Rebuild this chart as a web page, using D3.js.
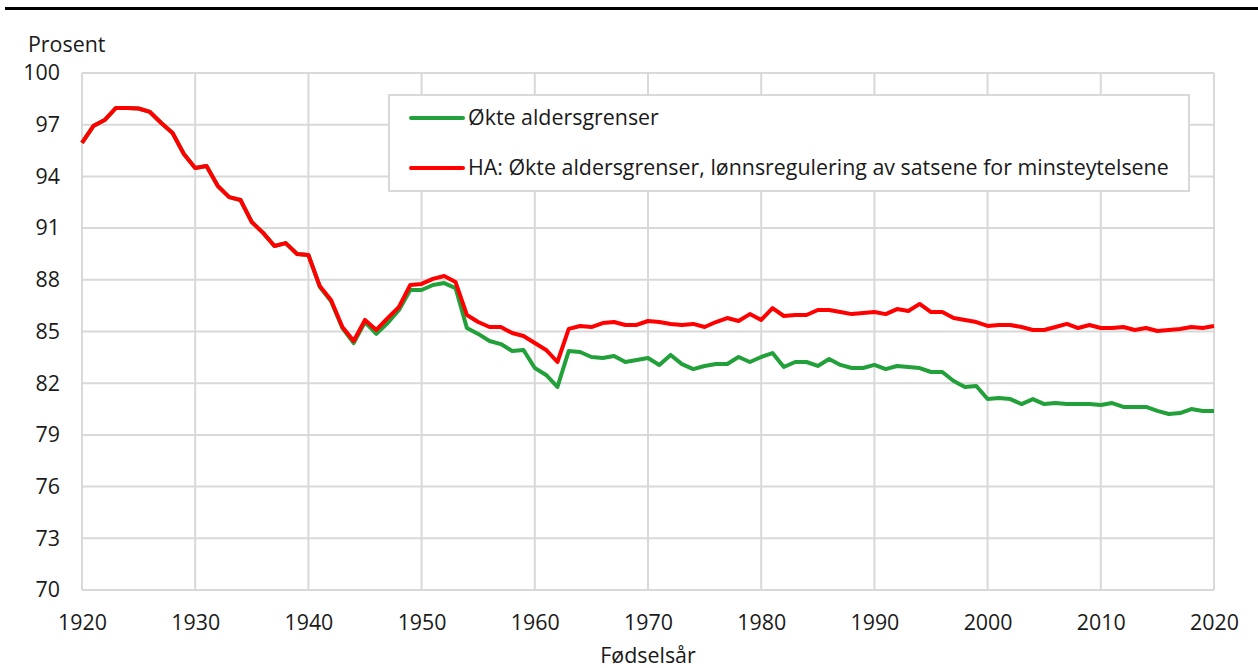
<!DOCTYPE html>
<html><head><meta charset="utf-8">
<script src="https://cdn.jsdelivr.net/npm/d3@7"></script>
<style>
html,body{margin:0;padding:0;background:#fff;}
text{font-family:"Open Sans","Noto Sans",sans-serif;fill:#1a1a1a;}
</style></head>
<body><svg id="c" width="1258" height="668"></svg>
<script>
const years = d3.range(1920, 2021);
const yTicks = [70,73,76,79,82,85,88,91,94,97,100];
const xTicks = [1920,1930,1940,1950,1960,1970,1980,1990,2000,2010,2020];
const seriesNames = ["Økte aldersgrenser","HA: Økte aldersgrenser, lønnsregulering av satsene for minsteytelsene"];
const seriesColors = ["#22a03a","#ff0000"];
const redValues = [95.94,96.92,97.27,97.97,97.97,97.94,97.74,97.1,96.52,95.3,
94.49,94.6,93.44,92.8,92.63,91.35,90.72,89.96,90.13,89.5,
89.44,87.64,86.83,85.26,84.45,85.67,85.09,85.78,86.42,87.7,
87.76,88.05,88.22,87.87,85.96,85.55,85.26,85.26,84.91,84.74,
84.33,83.93,83.23,85.15,85.32,85.26,85.49,85.55,85.38,85.38,
85.61,85.55,85.44,85.38,85.44,85.26,85.55,85.78,85.61,86.01,
85.67,86.36,85.9,85.96,85.96,86.25,86.25,86.13,86.01,86.07,
86.13,86.01,86.3,86.19,86.6,86.13,86.13,85.78,85.67,85.55,
85.32,85.38,85.38,85.26,85.09,85.09,85.26,85.44,85.2,85.38,
85.2,85.2,85.26,85.09,85.2,85.03,85.09,85.15,85.26,85.2,85.32];
const greenValues = [95.94,96.92,97.27,97.97,97.97,97.94,97.74,97.1,96.52,95.3,
94.49,94.6,93.44,92.8,92.63,91.35,90.72,89.96,90.13,89.5,
89.44,87.6,86.75,85.2,84.33,85.55,84.86,85.49,86.25,87.41,
87.41,87.7,87.81,87.52,85.2,84.86,84.45,84.27,83.87,83.93,
82.88,82.48,81.78,83.87,83.81,83.52,83.46,83.58,83.23,83.35,
83.46,83.06,83.64,83.11,82.82,83.0,83.11,83.11,83.52,83.23,
83.52,83.75,82.94,83.23,83.23,83.0,83.4,83.06,82.88,82.88,
83.06,82.82,83.0,82.94,82.88,82.65,82.65,82.13,81.78,81.84,
81.08,81.14,81.08,80.79,81.08,80.79,80.85,80.79,80.79,80.79,
80.73,80.85,80.62,80.62,80.62,80.39,80.21,80.27,80.5,80.39,80.39];

const svg = d3.select("#c");
const x = d3.scaleLinear().domain([1920,2020]).range([82,1214]);
const y = d3.scaleLinear().domain([70,100]).range([590,73]);
const grid = "#d9d9d9";
const fs = "21.4px";

// top rule
svg.append("line").attr("x1",5).attr("x2",1258).attr("y1",8.5).attr("y2",8.5)
  .attr("stroke","#000").attr("stroke-width",3);

// gridlines
svg.append("g").selectAll("line").data(yTicks).join("line")
  .attr("x1",x(1920)).attr("x2",x(2020)).attr("y1",d=>y(d)).attr("y2",d=>y(d))
  .attr("stroke",grid).attr("stroke-width",2);
svg.append("g").selectAll("line").data(xTicks).join("line")
  .attr("x1",d=>x(d)).attr("x2",d=>x(d)).attr("y1",y(70)).attr("y2",y(100))
  .attr("stroke",grid).attr("stroke-width",2);

// axes (labels only)
const yAxis = svg.append("g").attr("transform",`translate(${x(1920)},0)`)
  .call(d3.axisLeft(y).tickValues(yTicks).tickSize(0).tickPadding(22));
yAxis.select(".domain").remove();
yAxis.selectAll("text").style("font-size",fs).attr("fill","#1a1a1a").style("font-family","'Open Sans',sans-serif");
const xAxis = svg.append("g").attr("transform",`translate(0,${y(70)})`)
  .call(d3.axisBottom(x).tickValues(xTicks).tickFormat(d3.format("d")).tickSize(0).tickPadding(25));
xAxis.select(".domain").remove();
xAxis.selectAll("text").style("font-size",fs).attr("fill","#1a1a1a").style("font-family","'Open Sans',sans-serif");

svg.append("text").attr("x",28).attr("y",52).style("font-size",fs).text("Prosent");
svg.append("text").attr("x",648).attr("y",663).attr("text-anchor","middle").style("font-size",fs).text("Fødselsår");

// lines
const line = d3.line().x((d,i)=>x(years[i])).y(d=>y(d));
[greenValues, redValues].forEach((vals,k)=>{
  svg.append("path").datum(vals).attr("d",line).attr("fill","none")
    .attr("stroke",seriesColors[k]).attr("stroke-width",4).attr("stroke-linejoin","round");
});

// legend
const lg = svg.append("g");
lg.append("rect").attr("x",389).attr("y",95).attr("width",800).attr("height",96)
  .attr("fill","#fff").attr("stroke",grid).attr("stroke-width",2);
seriesNames.forEach((n,i)=>{
  const ly = 118 + i*50;
  lg.append("line").attr("x1",411).attr("x2",463).attr("y1",ly).attr("y2",ly)
    .attr("stroke",seriesColors[i]).attr("stroke-width",4).attr("stroke-linecap","round");
  lg.append("text").attr("x",468).attr("y",ly+7).style("font-size",fs).text(n);
});
</script></body></html>
